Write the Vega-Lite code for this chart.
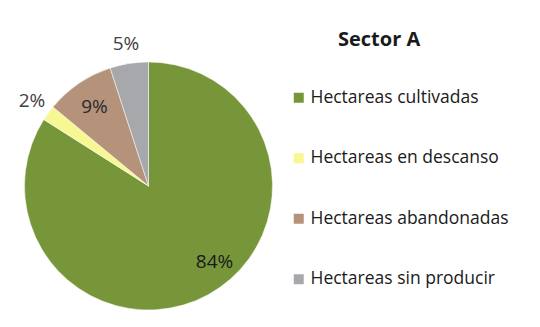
{
  "$schema": "https://vega.github.io/schema/vega-lite/v6.json",
  "width": 297,
  "height": 282,
  "autosize": "none",
  "padding": {"left": 0, "top": 45, "right": 243, "bottom": 0},
  "background": "white",
  "title": {"text": "Sector A", "anchor": "start", "frame": "group", "dx": 338, "offset": -15, "fontSize": 20, "font": "Open Sans", "fontWeight": "bold", "color": "#1a1a1a"},
  "config": {"view": {"stroke": null}},
  "data": {"values": [
    {"categoria": "Hectareas cultivadas", "porcentaje": 84, "etiqueta": "84%", "orden": 1},
    {"categoria": "Hectareas en descanso", "porcentaje": 2, "etiqueta": "2%", "orden": 2},
    {"categoria": "Hectareas abandonadas", "porcentaje": 9, "etiqueta": "9%", "orden": 3},
    {"categoria": "Hectareas sin producir", "porcentaje": 5, "etiqueta": "5%", "orden": 4}
  ]},
  "encoding": {
    "theta": {"field": "porcentaje", "type": "quantitative", "stack": true},
    "order": {"field": "orden", "type": "quantitative"}
  },
  "layer": [
    {
      "mark": {"type": "arc", "radius": 124, "stroke": "white", "strokeWidth": 0.5},
      "encoding": {
        "color": {
          "field": "categoria", "type": "nominal",
          "scale": {
            "domain": ["Hectareas cultivadas", "Hectareas en descanso", "Hectareas abandonadas", "Hectareas sin producir"],
            "range": ["#77963a", "#f7f794", "#b4937a", "#a6a8ab"]
          },
          "legend": {
            "orient": "none", "legendX": 290, "legendY": 44, "title": null,
            "symbolType": "square", "symbolSize": 100, "symbolStrokeWidth": 0,
            "labelFontSize": 17.5, "labelFont": "Open Sans", "labelColor": "#1a1a1a",
            "rowPadding": 41.5, "labelOffset": 3, "padding": 0, "labelLimit": 0
          }
        }
      }
    },
    {
      "mark": {"type": "text", "radius": 101, "thetaOffset": -0.21, "fontSize": 19, "font": "Open Sans", "color": "#1a1a1a"},
      "encoding": {
        "text": {"condition": {"test": "datum.porcentaje >= 50", "field": "etiqueta"}, "value": ""}
      }
    },
    {
      "mark": {"type": "text", "radius": 96, "fontSize": 19, "font": "Open Sans", "color": "#2a2a2a"},
      "encoding": {
        "text": {"condition": {"test": "datum.porcentaje >= 9 && datum.porcentaje < 50", "field": "etiqueta"}, "value": ""}
      }
    },
    {
      "mark": {"type": "text", "radius": 144, "fontSize": 19, "font": "Open Sans", "color": "#404040"},
      "encoding": {
        "text": {"condition": {"test": "datum.porcentaje < 9", "field": "etiqueta"}, "value": ""}
      }
    }
  ]
}
